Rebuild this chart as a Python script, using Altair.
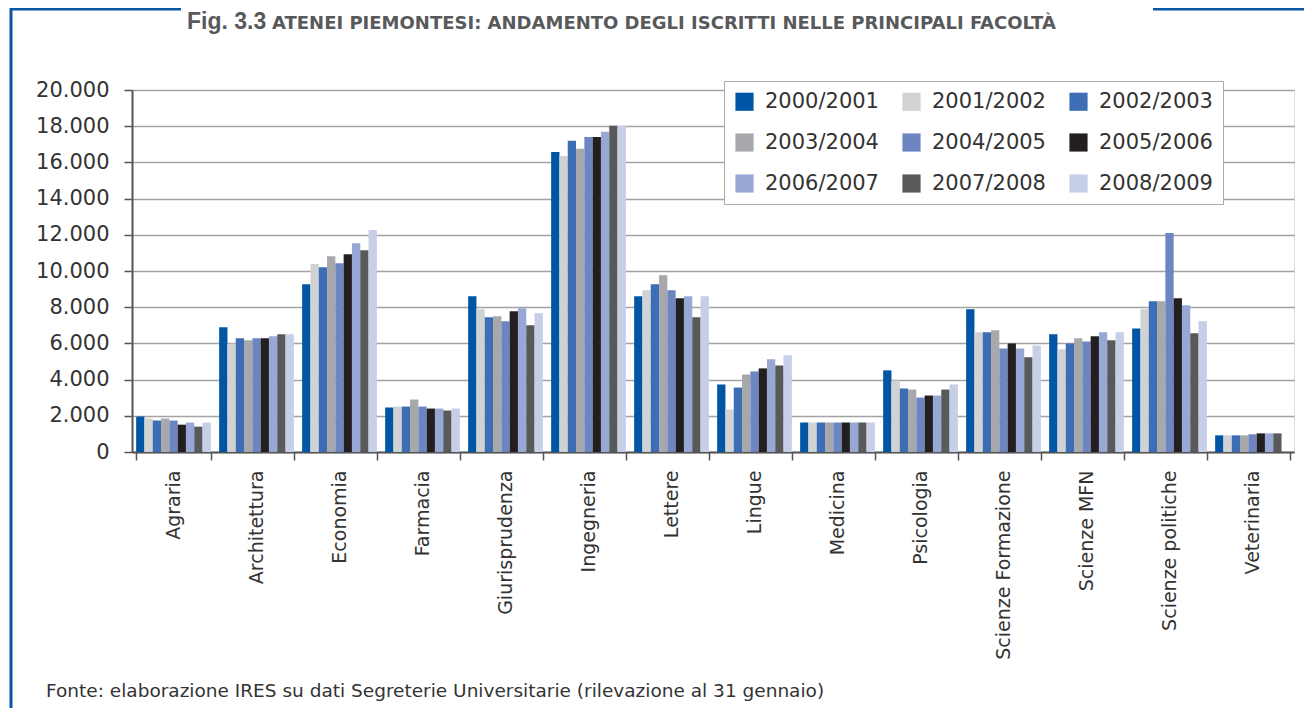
import altair as alt
import pandas as pd

categories = ["Agraria", "Architettura", "Economia", "Farmacia", "Giurisprudenza",
              "Ingegneria", "Lettere", "Lingue", "Medicina", "Psicologia",
              "Scienze Formazione", "Scienze MFN", "Scienze politiche", "Veterinaria"]
years = ["2000/2001", "2001/2002", "2002/2003", "2003/2004", "2004/2005",
         "2005/2006", "2006/2007", "2007/2008", "2008/2009"]
colors = ["#0055a4", "#d1d2d4", "#3d6db5", "#a7a8ab", "#6d86c2",
          "#231f20", "#98a8d4", "#58595b", "#c6cee8"]

v_2000_01 = [1960, 6890, 9270, 2460, 8610, 16580, 8610, 3730, 1630, 4510, 7890, 6500, 6830, 920]
v_2001_02 = [1850, 5980, 10380, 2510, 7890, 16360, 8940, 2350, 1630, 3950, 6610, 5670, 7890, 920]
v_2002_03 = [1740, 6280, 10210, 2510, 7440, 17190, 9270, 3560, 1630, 3510, 6610, 6000, 8330, 920]
v_2003_04 = [1850, 6170, 10820, 2900, 7500, 16750, 9770, 4280, 1630, 3450, 6720, 6280, 8330, 920]
v_2004_05 = [1740, 6280, 10430, 2510, 7220, 17410, 8940, 4450, 1630, 3010, 5720, 6110, 12100, 980]
v_2005_06 = [1510, 6280, 10930, 2400, 7770, 17410, 8490, 4620, 1630, 3120, 6000, 6390, 8490, 1030]
v_2006_07 = [1625, 6390, 11540, 2400, 7940, 17690, 8610, 5120, 1630, 3120, 5720, 6610, 8110, 1030]
v_2007_08 = [1400, 6500, 11150, 2290, 7000, 18020, 7440, 4780, 1630, 3450, 5230, 6170, 6560, 1030]
v_2008_09 = [1625, 6500, 12260, 2400, 7660, 18020, 8610, 5340, 1630, 3730, 5890, 6610, 7220, None]

series = [v_2000_01, v_2001_02, v_2002_03, v_2003_04, v_2004_05,
          v_2005_06, v_2006_07, v_2007_08, v_2008_09]

rows = []
for yr, vals in zip(years, series):
    for cat, val in zip(categories, vals):
        if val is not None:
            rows.append({"facolta": cat, "anno": yr, "iscritti": val})
df = pd.DataFrame(rows)

# legend is filled column by column: order the colour domain so that the
# three rows read 2000..2002 / 2003..2005 / 2006..2008 as in the reference
legend_order = [years[r * 3 + c] for c in range(3) for r in range(3)]
legend_colors = [colors[years.index(y)] for y in legend_order]

title_fig = "Fig. 3.3"
title_text = "ATENEI PIEMONTESI: ANDAMENTO DEGLI ISCRITTI NELLE PRINCIPALI FACOLTÀ"
source_text = "Fonte: elaborazione IRES su dati Segreterie Universitarie (rilevazione al 31 gennaio)"

FONT = "DejaVu Sans"
W, H = 1162, 362
BLUE = "#0a56a6"

bars = alt.Chart(df).mark_bar().encode(
    x=alt.X("facolta:N", sort=categories,
            scale=alt.Scale(paddingInner=0.1, paddingOuter=0.05),
            axis=alt.Axis(title=None, labelAngle=-90, tickBand="extent", tickSize=8,
                          tickWidth=1.5, tickColor="#555", domainColor="#555", domainWidth=2,
                          labelFontSize=19, labelColor="#333", labelFont=FONT,
                          labelPadding=10, labelLimit=400, grid=False)),
    xOffset=alt.XOffset("anno:N", sort=years, scale=alt.Scale(paddingInner=0, paddingOuter=0)),
    y=alt.Y("iscritti:Q", scale=alt.Scale(domain=[0, 20000], nice=False),
            axis=alt.Axis(title=None, values=list(range(0, 20001, 2000)),
                          labelExpr="replace(format(datum.value, ',d'), ',', '.')",
                          tickSize=8, tickWidth=1.5, tickColor="#555",
                          domainColor="#555", domainWidth=2,
                          grid=True, gridColor="#a3a3a3", gridWidth=1.5,
                          labelFontSize=21, labelColor="#333", labelFont=FONT,
                          labelPadding=15)),
    color=alt.Color("anno:N",
                    scale=alt.Scale(domain=legend_order, range=legend_colors),
                    legend=alt.Legend(title=None, orient="none", legendX=592, legendY=-9,
                                      columns=3, symbolType="square", symbolSize=330,
                                      symbolStrokeWidth=0, labelFontSize=21,
                                      labelFont=FONT, labelColor="#333",
                                      labelOffset=10, columnPadding=22, rowPadding=19,
                                      padding=10, fillColor="white", strokeColor="#aaaaaa")),
)

dummy = pd.DataFrame({"d": [0]})

t_fig = alt.Chart(dummy).mark_text(text=title_fig, font="Liberation Sans", fontSize=23,
                                   fontWeight="bold", color="#58595b", align="left",
                                   baseline="alphabetic").encode(
    x=alt.value(55), y=alt.value(-61))
t_main = alt.Chart(dummy).mark_text(text=title_text, font=FONT, fontSize=18, fontWeight="bold",
                                    color="#58595b", align="left", baseline="alphabetic").encode(
    x=alt.value(140), y=alt.value(-61))
t_src = alt.Chart(dummy).mark_text(text=source_text, font=FONT, fontSize=18.5,
                                   color="#333", align="left", baseline="alphabetic").encode(
    x=alt.value(-86), y=alt.value(607))

line_top_l = alt.Chart(dummy).mark_rule(color=BLUE, strokeWidth=3).encode(
    x=alt.value(-122), x2=alt.value(49), y=alt.value(-81))
line_top_r = alt.Chart(dummy).mark_rule(color=BLUE, strokeWidth=3).encode(
    x=alt.value(1021), x2=alt.value(1172), y=alt.value(-81))
line_left = alt.Chart(dummy).mark_rule(color=BLUE, strokeWidth=3).encode(
    x=alt.value(-121), y=alt.value(-82), y2=alt.value(618))

chart = alt.layer(bars, t_fig, t_main, t_src, line_top_l, line_top_r, line_left).properties(
    width=W, height=H,
    autosize=alt.AutoSizeParams(type="none"),
    padding={"left": 124, "top": 82, "right": 10, "bottom": 256},
).configure_view(stroke=None).configure(background="white")

chart.save("out.html", embed_options={"renderer": "svg", "actions": False})
